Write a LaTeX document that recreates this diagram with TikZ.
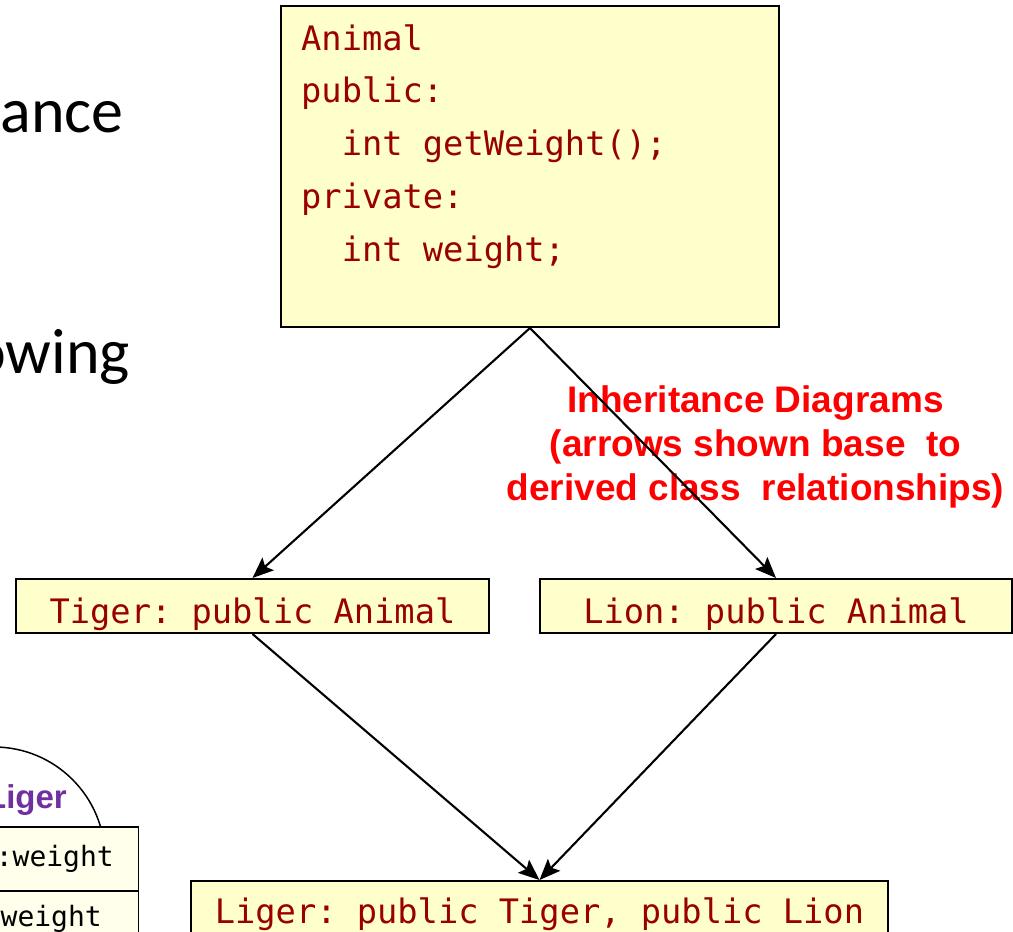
\documentclass[tikz,border=0pt]{standalone}
\usepackage{fontspec}
\setmainfont{Carlito}
\setmonofont{DejaVu Sans Mono}
\newfontfamily\headfont{Liberation Sans}
\usetikzlibrary{arrows.meta}

\definecolor{boxfill}{RGB}{255,255,204}
\definecolor{memfill}{RGB}{255,255,236}
\definecolor{codered}{RGB}{153,0,0}
\definecolor{notered}{RGB}{255,0,0}
\definecolor{ligerpurple}{RGB}{112,48,160}

\begin{document}
\begin{tikzpicture}[x=1pt,y=-1pt,
  classbox/.style={draw=black, line width=2pt, fill=boxfill, inner sep=0pt},
  code/.style={text=codered, font=\fontsize{33.7}{40}\ttfamily, inner sep=0pt},
  membox/.style={draw=black, line width=1.5pt, fill=memfill, inner sep=0pt,
    minimum width=170pt, minimum height=64pt, anchor=north east},
  member/.style={text=black, font=\fontsize{28}{32}\ttfamily, inner sep=0pt, anchor=base east},
  slidetext/.style={text=black, font=\fontsize{64}{70}\selectfont, inner sep=0pt, anchor=base east},
  note/.style={text=notered, font=\fontsize{37}{44}\headfont\bfseries, align=center, inner sep=0pt},
  inherit/.style={draw=black, line width=2.1pt, -{Stealth[length=21pt,width=17pt,inset=4pt]}}
]
\useasboundingbox (0,0) rectangle (1013,932);

% slide body text running in from the left
\node[slidetext] (t1) at (124,132) {ance};
\node[slidetext] (t2) at (130,373) {owing};

% object layout sketch, bottom left
\draw[line width=1.5pt] (-6,858) circle[radius=111pt];
\node[text=ligerpurple, font=\fontsize{33}{36}\headfont\bfseries, inner sep=0pt, anchor=base east] (ligerlbl) at (67,808) {Liger};
\node[membox] (m1) at (139,826) {};
\node[membox] (m2) at (139,890) {};
\node[member] (m1t) at (114,866) {::weight};
\node[member] (m2t) at (102,926) {weight};

% caption (base anchor sits on the last line)
\node[note, anchor=base] (cap) at (755.5,500) {Inheritance Diagrams\\(arrows shown base\ \ to\\derived class\ \ relationships)};

% base class
\node[classbox, minimum width=498pt, minimum height=321pt] (animal) at (530,166.5) {};
\node[code, anchor=base west] (a1) at (301,50) {Animal};
\node[code, anchor=base west] (a2) at (301,102) {public:};
\node[code, anchor=base west] (a3) at (341.6,155) {int getWeight();};
\node[code, anchor=base west] (a4) at (301,208) {private:};
\node[code, anchor=base west] (a5) at (341.6,261) {int weight;};

% derived classes
\node[classbox, minimum width=473pt, minimum height=54pt] (tiger) at (252.5,606) {};
\node[code, anchor=base] (tigert) at ([yshift=-17pt]tiger.center) {Tiger: public Animal};
\node[classbox, minimum width=472pt, minimum height=54pt] (lion) at (776,606) {};
\node[code, anchor=base] (liont) at ([yshift=-17pt]lion.center) {Lion: public Animal};
\node[classbox, minimum width=697pt, minimum height=54pt] (liger) at (539.5,908) {};
\node[code, anchor=base] (ligert) at ([yshift=-15pt]liger.center) {Liger: public Tiger, public Lion};

% inheritance arrows
\draw[inherit] (animal.south) -- (tiger.north);
\draw[inherit] (animal.south) -- (lion.north);
\draw[inherit] (tiger.south) -- (liger.north);
\draw[inherit] (lion.south) -- (liger.north);
\end{tikzpicture}
\end{document}
